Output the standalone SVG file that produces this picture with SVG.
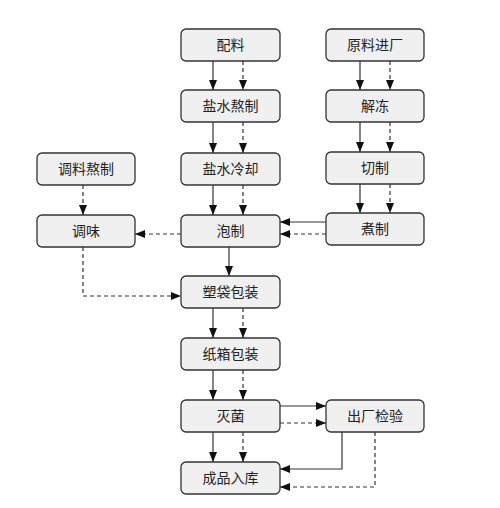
<svg xmlns="http://www.w3.org/2000/svg" width="500" height="508" viewBox="0 0 500 508">
<style>
.box{fill:#f0f0f0;stroke:#333;stroke-width:1.3}
.t{font-family:"Liberation Sans","Noto Sans CJK SC",sans-serif;font-size:14px;fill:#222;text-anchor:middle}
.s{fill:none;stroke:#333;stroke-width:1.2}
.d{fill:none;stroke:#333;stroke-width:1.2;stroke-dasharray:4 3}
</style>
<defs>
<marker id="a" markerUnits="userSpaceOnUse" markerWidth="10" markerHeight="10" viewBox="0 0 10 10" refX="10" refY="5" orient="auto">
<path d="M0,1 L10,5 L0,9 Z" fill="#111"/>
</marker>
</defs>
<rect width="500" height="508" fill="#fff"/>
<g id="connectors">
<path class="s" d="M213,61 V90" marker-end="url(#a)"/>
<path class="d" d="M243,61 V90" marker-end="url(#a)"/>
<path class="s" d="M213,122 V153" marker-end="url(#a)"/>
<path class="d" d="M243,122 V153" marker-end="url(#a)"/>
<path class="s" d="M213,185 V215" marker-end="url(#a)"/>
<path class="d" d="M243,185 V215" marker-end="url(#a)"/>
<path class="s" d="M360,61 V90" marker-end="url(#a)"/>
<path class="d" d="M390,61 V90" marker-end="url(#a)"/>
<path class="s" d="M360,122 V152" marker-end="url(#a)"/>
<path class="d" d="M390,122 V152" marker-end="url(#a)"/>
<path class="s" d="M360,184 V213" marker-end="url(#a)"/>
<path class="d" d="M390,184 V213" marker-end="url(#a)"/>
<path class="d" d="M83,185 V215" marker-end="url(#a)"/>
<path class="s" d="M326,222 H280" marker-end="url(#a)"/>
<path class="d" d="M326,234 H280" marker-end="url(#a)"/>
<path class="d" d="M181,234 H135" marker-end="url(#a)"/>
<path class="s" d="M229,247 V276" marker-end="url(#a)"/>
<path class="d" d="M83,247 V296 H181" marker-end="url(#a)"/>
<path class="s" d="M213,308 V338" marker-end="url(#a)"/>
<path class="d" d="M243,308 V338" marker-end="url(#a)"/>
<path class="s" d="M213,370 V400" marker-end="url(#a)"/>
<path class="d" d="M243,370 V400" marker-end="url(#a)"/>
<path class="s" d="M280,406 H326" marker-end="url(#a)"/>
<path class="d" d="M280,423 H326" marker-end="url(#a)"/>
<path class="s" d="M213,432 V462" marker-end="url(#a)"/>
<path class="d" d="M243,432 V462" marker-end="url(#a)"/>
<path class="s" d="M342,432 V469 H280" marker-end="url(#a)"/>
<path class="d" d="M375,432 V487 H280" marker-end="url(#a)"/>
</g>
<g id="peiliao"><rect class="box" x="181" y="29" width="99" height="32" rx="5"/><text class="t" x="230.5" y="50">配料</text></g>
<g id="yanshuiaozhi"><rect class="box" x="181" y="90" width="99" height="32" rx="5"/><text class="t" x="230.5" y="111">盐水熬制</text></g>
<g id="yanshuilengque"><rect class="box" x="181" y="153" width="99" height="32" rx="5"/><text class="t" x="230.5" y="174">盐水冷却</text></g>
<g id="paozhi"><rect class="box" x="181" y="215" width="99" height="32" rx="5"/><text class="t" x="230.5" y="236">泡制</text></g>
<g id="suodaibaozhuang"><rect class="box" x="181" y="276" width="99" height="32" rx="5"/><text class="t" x="230.5" y="297">塑袋包装</text></g>
<g id="zhixiangbaozhuang"><rect class="box" x="181" y="338" width="99" height="32" rx="5"/><text class="t" x="230.5" y="359">纸箱包装</text></g>
<g id="miejun"><rect class="box" x="181" y="400" width="99" height="32" rx="5"/><text class="t" x="230.5" y="421">灭菌</text></g>
<g id="chengpinruku"><rect class="box" x="181" y="462" width="99" height="32" rx="5"/><text class="t" x="230.5" y="483">成品入库</text></g>
<g id="yuanliaojinchang"><rect class="box" x="326" y="29" width="98" height="32" rx="5"/><text class="t" x="375" y="50">原料进厂</text></g>
<g id="jiedong"><rect class="box" x="326" y="90" width="98" height="32" rx="5"/><text class="t" x="375" y="111">解冻</text></g>
<g id="qiezhi"><rect class="box" x="326" y="152" width="98" height="32" rx="5"/><text class="t" x="375" y="173">切制</text></g>
<g id="zhuzhi"><rect class="box" x="326" y="213" width="98" height="32" rx="5"/><text class="t" x="375" y="234">煮制</text></g>
<g id="tiaoliaoaozhi"><rect class="box" x="37" y="153" width="98" height="32" rx="5"/><text class="t" x="86" y="174">调料熬制</text></g>
<g id="tiaowei"><rect class="box" x="37" y="215" width="98" height="32" rx="5"/><text class="t" x="86" y="236">调味</text></g>
<g id="chuchangjianyan"><rect class="box" x="326" y="400" width="98" height="32" rx="5"/><text class="t" x="375" y="421">出厂检验</text></g>
</svg>
